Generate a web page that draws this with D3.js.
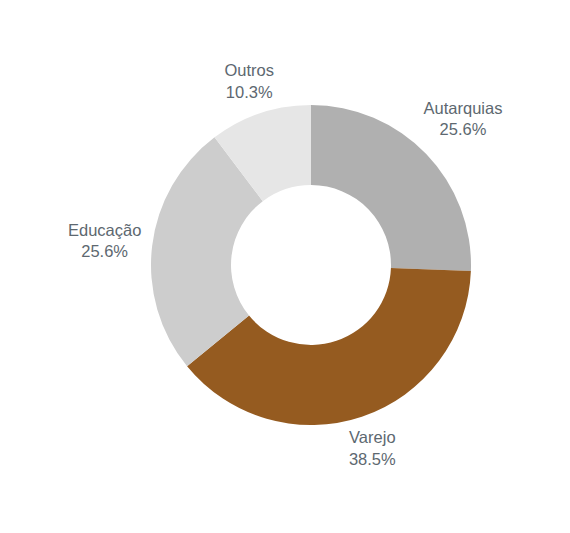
<!DOCTYPE html>
<html>
<head>
<meta charset="utf-8">
<script src="https://cdn.jsdelivr.net/npm/d3@7"></script>
<style>
  body { margin: 0; background: #fff; }
  text { font-family: "Liberation Sans", Arial, Helvetica, sans-serif; }
</style>
</head>
<body>
<div id="chart"></div>
<script>
var categories = ["Autarquias", "Varejo", "Educação", "Outros"];
var values = [25.6, 38.5, 25.6, 10.3];
var colors = ["#b0b0b0", "#955b20", "#cdcdcd", "#e6e6e6"];

var width = 570,
  height = 533;

var cx = 311, cy = 265,
  outerR = 160, innerR = 80;

var svg = d3.select("#chart")
  .append("svg")
  .attr("width", width)
  .attr("height", height)
  .append("g")
  .attr("transform", "translate(" + cx + "," + cy + ")");

var data = categories.map(function(c, i) {
  return { name: c, value: values[i], color: colors[i] };
});

var pie = d3.pie()
  .sort(null)
  .value(function(d) { return d.value; });

var arc = d3.arc()
  .innerRadius(innerR)
  .outerRadius(outerR);

var arcs = pie(data);

svg.selectAll(".slice")
  .data(arcs)
  .enter().append("path")
  .attr("class", "slice")
  .attr("d", arc)
  .attr("fill", function(d) { return d.data.color; });

// labels: two lines, pushed out further for wider text
var labels = svg.selectAll(".label")
  .data(arcs)
  .enter().append("text")
  .attr("class", "label")
  .attr("text-anchor", "middle")
  .style("font-size", "16.5px")
  .style("fill", "#5d6870");

labels.append("tspan")
  .attr("x", 0)
  .attr("dy", "-0.28em")
  .text(function(d) { return d.data.name; });

labels.append("tspan")
  .attr("x", 0)
  .attr("dy", "1.3em")
  .text(function(d) { return d.data.value.toFixed(1) + "%"; });

labels.attr("transform", function(d) {
  var w = this.getBBox().width;
  var r = 166 + 0.57 * w;
  var c = d3.arc().innerRadius(r).outerRadius(r).centroid(d);
  return "translate(" + c[0] + "," + c[1] + ")";
});
</script>
</body>
</html>
